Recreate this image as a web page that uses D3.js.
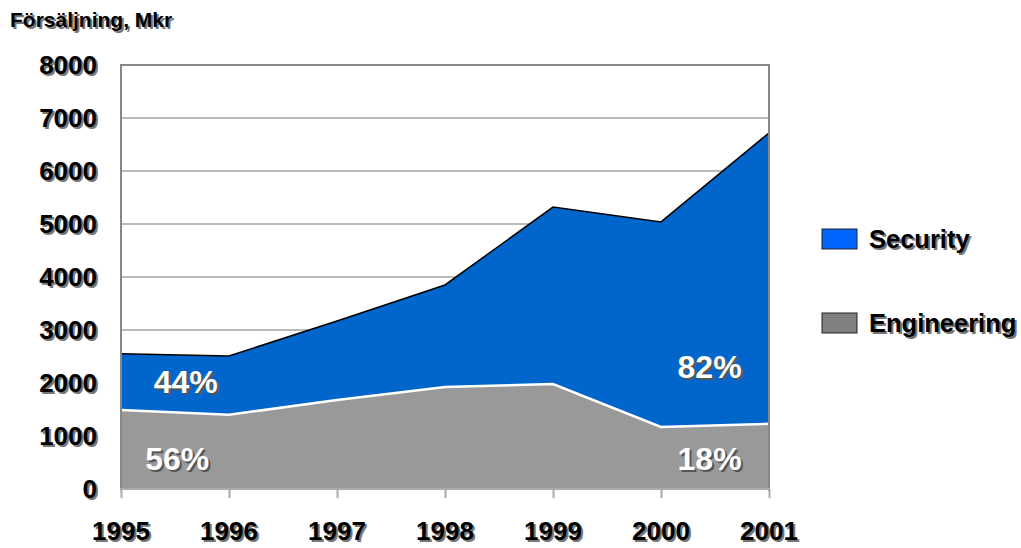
<!DOCTYPE html>
<html><head><meta charset="utf-8">
<script src="https://cdn.jsdelivr.net/npm/d3@7"></script>
<style>body{margin:0;background:#fff}text{font-family:"Liberation Sans",Arial,sans-serif;font-weight:bold}</style>
</head><body>
<svg id="c" width="1021" height="548"></svg>
<script>
const years = [1995, 1996, 1997, 1998, 1999, 2000, 2001];
const engineering = [1490, 1400, 1680, 1925, 1980, 1170, 1230];
const security = [1060, 1110, 1490, 1925, 3340, 3870, 5490];
const yTicks = [0, 1000, 2000, 3000, 4000, 5000, 6000, 7000, 8000];
const seriesNames = ["Security", "Engineering"];
const pctLabels = [
  {text: "44%", year: 1995.6, value: 2020, color: "#fff"},
  {text: "56%", year: 1995.52, value: 560, color: "#fff"},
  {text: "82%", year: 2000.45, value: 2300, color: "#fff"},
  {text: "18%", year: 2000.45, value: 560, color: "#fff"}
];

const svg = d3.select("#c");
const x = d3.scaleLinear().domain([1995, 2001]).range([121, 769]);
const y = d3.scaleLinear().domain([0, 8000]).range([489, 65]);

function shadowText(g, txt, xx, yy, opts) {
  const sh = g.append("text").attr("x", xx + 2).attr("y", yy + 2).text(txt)
    .attr("fill", opts.shadow || "#777").attr("font-size", opts.size).attr("text-anchor", opts.anchor || "start");
  const t = g.append("text").attr("x", xx).attr("y", yy).text(txt)
    .attr("fill", opts.color || "#000").attr("font-size", opts.size).attr("text-anchor", opts.anchor || "start");
  if (opts.spacing) { sh.attr("letter-spacing", opts.spacing); t.attr("letter-spacing", opts.spacing); }
}

// gridlines
svg.append("g").selectAll("line").data(yTicks.filter(d => d > 0 && d < 8000)).join("line")
  .attr("x1", x(1995)).attr("x2", x(2001)).attr("y1", d => y(d)).attr("y2", d => y(d))
  .attr("stroke", "#bbb").attr("stroke-width", 2);

const data = years.map((yr, i) => ({yr, eng: engineering[i], sec: security[i]}));

const areaEng = d3.area().x(d => x(d.yr)).y0(y(0)).y1(d => y(d.eng));
const areaSec = d3.area().x(d => x(d.yr)).y0(d => y(d.eng)).y1(d => y(d.eng + d.sec));

svg.append("path").datum(data).attr("d", areaSec).attr("fill", "#0066cc");
svg.append("path").datum(data).attr("d", areaEng).attr("fill", "#999999");
svg.append("path").datum(data).attr("d", d3.line().x(d => x(d.yr)).y(d => y(d.eng)))
  .attr("fill", "none").attr("stroke", "#fff").attr("stroke-width", 2.5);
svg.append("path").datum(data).attr("d", d3.line().x(d => x(d.yr)).y(d => y(d.eng + d.sec)))
  .attr("fill", "none").attr("stroke", "#000").attr("stroke-width", 1.5);

// plot border
svg.append("path").attr("d", `M${x(1995)},${y(0)}V${y(8000)}H${x(2001)}V${y(0)}`)
  .attr("fill", "none").attr("stroke", "#888").attr("stroke-width", 2);

// x axis
const xa = svg.append("g").attr("transform", `translate(0,${y(0)})`)
  .call(d3.axisBottom(x).tickValues(years).tickSize(9).tickFormat(""));
xa.select(".domain").attr("stroke", "#aaa").attr("stroke-width", 2).attr("d", `M${x(1995)},2V0H${x(2001)}V2`);
xa.selectAll(".tick line").attr("stroke", "#aaa").attr("stroke-width", 2);

const lbl = svg.append("g");
years.forEach(yr => shadowText(lbl, String(yr), x(yr), 540, {size: 26, anchor: "middle"}));
yTicks.forEach(v => shadowText(lbl, String(v), 97, y(v) + 9, {size: 26, anchor: "end"}));
shadowText(lbl, "Försäljning, Mkr", 10, 27, {size: 21});

pctLabels.forEach(p => shadowText(lbl, p.text, x(p.year), y(p.value) + 11, {size: 32, anchor: "middle", color: p.color, shadow: "#555"}));

// legend
const legColors = ["#0066ff", "#808080"];
const legY = [239, 323];
seriesNames.forEach((n, i) => {
  svg.append("rect").attr("x", 822).attr("y", legY[i] - 10).attr("width", 35).attr("height", 20)
    .attr("fill", legColors[i]).attr("stroke", "#222").attr("stroke-width", 1);
  shadowText(lbl, n, 869, legY[i] + 9, {size: 25.5});
});
</script>
</body></html>
